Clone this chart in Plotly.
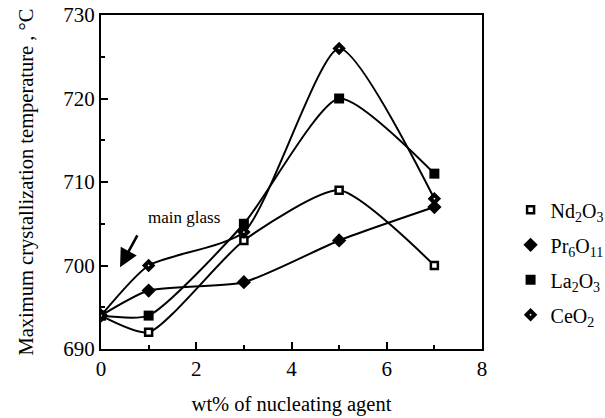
import plotly.graph_objects as go

# wt% of nucleating agent added to the base glass
wt_pct = [0, 1, 3, 5, 7]

# maximum crystallization temperature (°C) for each nucleating oxide
nd2o3 = [694, 692, 703, 709, 700]
pr6o11 = [694, 697, 698, 703, 707]
la2o3 = [694, 694, 705, 720, 711]
ceo2 = [694, 700, 704, 726, 708]

x_ticks = [0, 2, 4, 6, 8]
y_ticks = [690, 700, 710, 720, 730]

FONT = "Liberation Serif"
BLACK = "#000000"

series = [
    ("Nd<sub>2</sub>O<sub>3</sub>", nd2o3, dict(symbol="square", size=7, color="white",
                                                line=dict(color=BLACK, width=2.5))),
    ("Pr<sub>6</sub>O<sub>11</sub>", pr6o11, dict(symbol="diamond", size=11, color=BLACK,
                                                  line=dict(color=BLACK, width=0))),
    ("La<sub>2</sub>O<sub>3</sub>", la2o3, dict(symbol="square", size=10, color=BLACK,
                                                line=dict(color=BLACK, width=0))),
    ("CeO<sub>2</sub>", ceo2, dict(symbol="diamond", size=6, color="white",
                                   line=dict(color=BLACK, width=4))),
]

fig = go.Figure()
# smoothed curves first, markers on top (markers alone go in the legend)
for name, values, marker in series:
    fig.add_trace(go.Scatter(
        x=wt_pct, y=values, mode="lines", showlegend=False, hoverinfo="skip",
        line=dict(color=BLACK, width=2, shape="spline", smoothing=0.6),
    ))
for i, (name, values, marker) in enumerate(series):
    fig.add_trace(go.Scatter(
        x=wt_pct, y=values, name=name, mode="markers",
        marker=marker, legendgroup=f"g{i}",
    ))

axis_common = dict(
    showgrid=False, zeroline=False, showline=True, linecolor=BLACK, linewidth=2,
    mirror=True, ticks="inside", ticklen=7, tickwidth=2, tickcolor=BLACK,
    tickfont=dict(family=FONT, size=21, color=BLACK),
)

fig.update_xaxes(
    range=[0, 8], tickvals=x_ticks, ticktext=[str(v) for v in x_ticks],
    minor=dict(dtick=1, ticks="inside", ticklen=4, tickwidth=2, tickcolor=BLACK),
    title=dict(text="wt% of nucleating agent", font=dict(family=FONT, size=20.5, color=BLACK),
               standoff=16),
    **axis_common,
)
fig.update_yaxes(
    range=[690, 730], tickvals=y_ticks, ticktext=[str(v) for v in y_ticks],
    minor=dict(dtick=5, ticks="inside", ticklen=4, tickwidth=2, tickcolor=BLACK),
    title=dict(text="Maximum crystallization temperature , °C",
               font=dict(family=FONT, size=20.5, color=BLACK), standoff=24),
    **axis_common,
)

# label and arrow pointing at the base glass
fig.add_annotation(x=1.75, y=705.8, text="main glass", showarrow=False,
                   font=dict(family=FONT, size=17, color=BLACK))
fig.add_annotation(x=0.4, y=699.8, ax=0.78, ay=703.8, axref="x", ayref="y",
                   text="", showarrow=True, arrowhead=2, arrowsize=1.4,
                   arrowwidth=2.6, arrowcolor=BLACK)

fig.update_layout(
    width=605, height=418,
    margin=dict(l=101, r=123, t=15, b=69, autoexpand=False),
    paper_bgcolor="white", plot_bgcolor="white",
    font=dict(family=FONT, color=BLACK),
    legend=dict(x=1.075, y=0.475, xanchor="left", yanchor="top",
                font=dict(family=FONT, size=20, color=BLACK),
                tracegroupgap=6, bgcolor="rgba(0,0,0,0)", itemwidth=30),
)

fig.write_html("out.html")
